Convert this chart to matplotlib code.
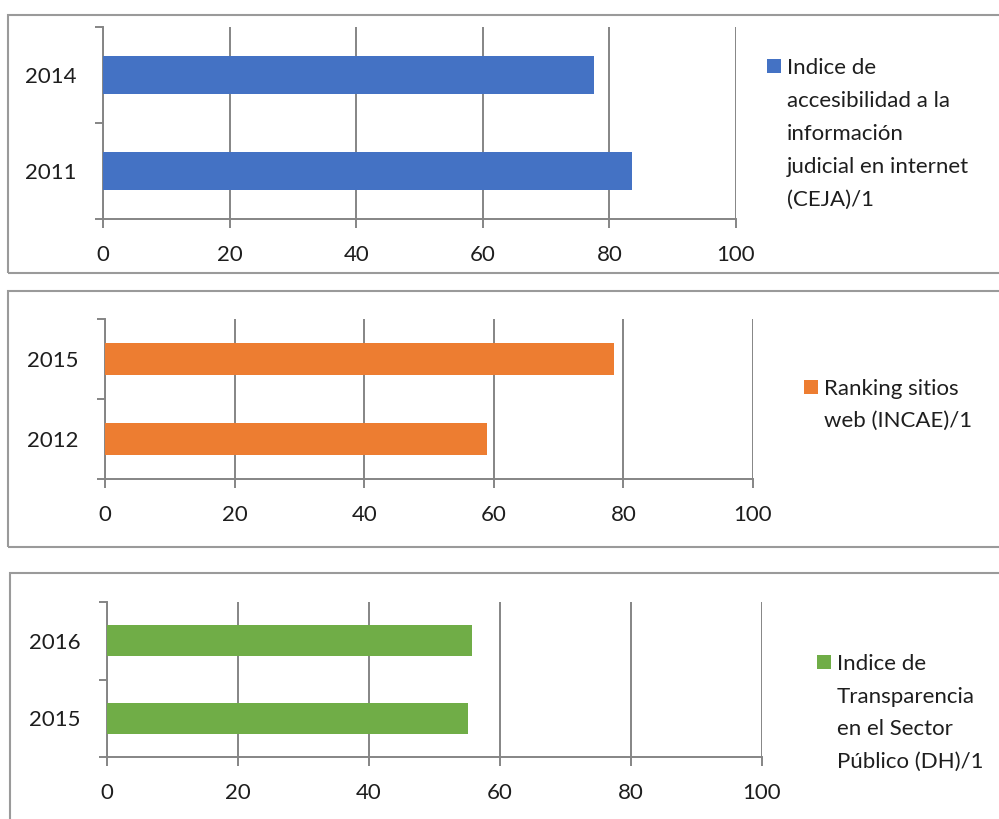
import matplotlib
matplotlib.use("Agg")
import matplotlib.pyplot as plt
from matplotlib.patches import Rectangle

plt.rcParams['font.family'] = ['Lato', 'DejaVu Sans']

# datos de cada indicador
years_ceja = ["2011", "2014"]
values_ceja = [83.6, 77.6]
label_ceja = ["Indice de", "accesibilidad a la", "información",
              "judicial en internet", "(CEJA)/1"]

years_incae = ["2012", "2015"]
values_incae = [58.9, 78.5]
label_incae = ["Ranking sitios", "web (INCAE)/1"]

years_dh = ["2015", "2016"]
values_dh = [55.1, 55.7]
label_dh = ["Indice de", "Transparencia", "en el Sector", "Público (DH)/1"]

colors = ["#4472C4", "#ED7D31", "#70AD47"]
x_ticks = [0, 20, 40, 60, 80, 100]

W, H = 999, 819
fig = plt.figure(figsize=(W / 100, H / 100), dpi=100)
fig.patch.set_facecolor("white")

grid_col = "#858585"
text_col = "#1e1e1e"
fsize = 16


def px_rect(l, t, r, b):
    return [l / W, 1 - b / H, (r - l) / W, (b - t) / H]


def draw_panel(box, axbox, years, values, color, label, leg_x, leg_y, step):
    # marco del gráfico
    l, t, r, b = box
    fig.patches.append(Rectangle((l / W, 1 - b / H), (r - l) / W, (b - t) / H,
                                 transform=fig.transFigure, fill=False,
                                 edgecolor="#9a9a9a", linewidth=1.5))

    ax = fig.add_axes(px_rect(*axbox))
    pos = list(range(len(years)))
    ax.barh(pos, values, height=0.4, color=color, zorder=3)
    ax.set_xlim(0, 100)
    ax.set_ylim(-0.5, len(years) - 0.5)
    ax.set_xticks(x_ticks)
    ax.set_yticks(pos)
    ax.set_yticklabels(years)
    ax.set_yticks([p - 0.5 for p in range(len(years) + 1)], minor=True)
    ax.grid(axis="x", color=grid_col, linewidth=1.4, zorder=0)
    for s in ["top", "right"]:
        ax.spines[s].set_visible(False)
    for s in ["left", "bottom"]:
        ax.spines[s].set_color(grid_col)
        ax.spines[s].set_linewidth(1.4)
    ax.tick_params(axis="y", which="major", length=0, pad=19,
                   labelsize=fsize, labelcolor=text_col)
    ax.tick_params(axis="y", which="minor", length=6, width=1.4,
                   color=grid_col)
    ax.tick_params(axis="x", length=6.5, width=1.4, color=grid_col, pad=12,
                   labelsize=fsize, labelcolor=text_col)

    # leyenda
    fig.patches.append(Rectangle((leg_x / W, 1 - (leg_y + 7) / H), 14 / W, 14 / H,
                                 transform=fig.transFigure, facecolor=color,
                                 edgecolor="none"))
    for i, line in enumerate(label):
        fig.text((leg_x + 20) / W, 1 - (leg_y + i * step) / H, line,
                 fontsize=fsize, color=text_col, va="center_baseline", ha="left")


draw_panel((8, 15, 1010, 273), (103, 27, 736, 219), years_ceja, values_ceja,
           colors[0], label_ceja, 767, 66, 33)
draw_panel((8, 291, 1010, 547), (105, 319, 753, 479), years_incae, values_incae,
           colors[1], label_incae, 804, 387, 32)
draw_panel((10, 573, 1010, 830), (107, 602, 762, 757), years_dh, values_dh,
           colors[2], label_dh, 817, 662, 32.7)

fig.savefig("out.png", dpi=100)
